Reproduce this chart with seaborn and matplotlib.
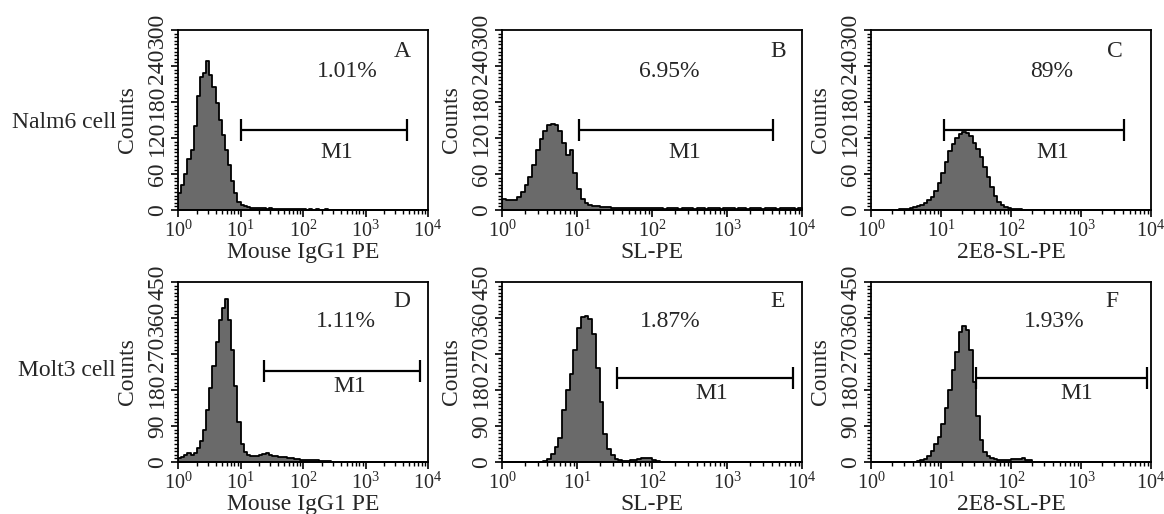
import numpy as np
import pandas as pd
import seaborn as sns
import matplotlib
matplotlib.use("Agg")
import matplotlib.pyplot as plt
from matplotlib.ticker import (LogLocator, LogFormatterMathtext, MultipleLocator,
                               NullFormatter, FixedLocator)

# ---------------------------------------------------------------------------
# Flow-cytometry histograms: counts per fluorescence channel,
# 20 channels per decade over 10^0 .. 10^4 (80 channels per histogram).
# ---------------------------------------------------------------------------
counts_A = [28, 42, 60, 85, 100, 140, 190, 222, 228, 248,
            225, 205, 178, 150, 125, 100, 75, 48, 28, 14,
            8, 6, 5, 4, 4, 3, 3, 3, 2, 3,
            2, 2, 2, 2, 1, 1, 1, 1, 1, 1,
            1, 0, 1, 0, 1, 0, 0, 1, 0, 0,
            0, 0, 0, 0, 0, 0, 0, 0, 0, 0,
            0, 0, 0, 0, 0, 0, 0, 0, 0, 0,
            0, 0, 0, 0, 0, 0, 0, 0, 0, 0]
counts_B = [18, 17, 16, 17, 22, 30, 42, 55, 75, 100,
            118, 132, 142, 143, 142, 132, 112, 92, 100, 62,
            35, 18, 12, 9, 7, 6, 5, 5, 5, 4,
            4, 4, 4, 3, 4, 3, 4, 3, 3, 4,
            3, 3, 3, 2, 3, 3, 3, 2, 3, 3,
            3, 2, 3, 3, 2, 3, 3, 3, 2, 3,
            3, 3, 2, 3, 3, 2, 3, 3, 3, 2,
            3, 3, 3, 2, 3, 3, 3, 3, 2, 3]
counts_C = [0, 0, 0, 0, 0, 0, 0, 0, 1, 1,
            2, 3, 5, 6, 8, 12, 17, 22, 32, 45,
            62, 80, 98, 110, 120, 126, 130, 128, 124, 112,
            102, 88, 72, 55, 38, 24, 14, 8, 5, 3,
            2, 1, 1, 0, 0, 0, 0, 0, 0, 0,
            0, 0, 0, 0, 0, 0, 0, 0, 0, 0,
            0, 0, 0, 0, 0, 0, 0, 0, 0, 0,
            0, 0, 0, 0, 0, 0, 0, 0, 0, 0]
counts_D = [10, 12, 18, 22, 18, 22, 35, 52, 80, 130,
            185, 240, 300, 355, 385, 408, 355, 280, 190, 100,
            45, 25, 18, 16, 15, 16, 18, 20, 22, 18,
            15, 14, 13, 12, 12, 10, 9, 8, 8, 6,
            5, 5, 4, 4, 4, 3, 3, 2, 2, 1,
            0, 0, 0, 0, 0, 0, 0, 0, 0, 0,
            0, 0, 0, 0, 0, 0, 0, 0, 0, 0,
            0, 0, 0, 0, 0, 0, 0, 0, 0, 0]
counts_E = [0, 0, 0, 0, 0, 0, 0, 0, 0, 0,
            0, 2, 8, 20, 38, 60, 130, 180, 220, 280,
            335, 362, 365, 358, 320, 235, 150, 70, 32, 18,
            8, 5, 2, 2, 4, 6, 8, 10, 10, 9,
            6, 2, 0, 0, 0, 0, 0, 0, 0, 0,
            0, 0, 0, 0, 0, 0, 0, 0, 0, 0,
            0, 0, 0, 0, 0, 0, 0, 0, 0, 0,
            0, 0, 0, 0, 0, 0, 0, 0, 0, 0]
counts_F = [0, 0, 0, 0, 0, 0, 0, 0, 0, 0,
            0, 0, 0, 2, 5, 8, 15, 28, 45, 62,
            95, 135, 180, 230, 275, 325, 340, 330, 280, 200,
            115, 55, 25, 15, 10, 7, 6, 6, 5, 6,
            7, 8, 8, 9, 6, 4, 1, 0, 0, 0,
            0, 0, 0, 0, 0, 0, 0, 0, 0, 0,
            0, 0, 0, 0, 0, 0, 0, 0, 0, 0,
            0, 0, 0, 0, 0, 0, 0, 0, 0, 0]

panel_ids = ["A", "B", "C", "D", "E", "F"]
panel_counts = [counts_A, counts_B, counts_C, counts_D, counts_E, counts_F]
x_labels = ["Mouse IgG1 PE", "SL-PE", "2E8-SL-PE",
            "Mouse IgG1 PE", "SL-PE", "2E8-SL-PE"]
percent_labels = ["1.01%", "6.95%", "89%", "1.11%", "1.87%", "1.93%"]
row_labels = ["Nalm6 cell", "Molt3 cell"]

# M1 marker gate: lower / upper fluorescence bound and drawing height (counts)
gate_low = [10, 10.7, 11, 24, 34, 31.6]
gate_high = [4600, 4100, 4100, 7400, 7600, 8700]
gate_level = [133, 133, 133, 227, 210, 210]

# y axis scale per row
row_ymax = [300, 450]
row_ystep = [60, 90]

# ---------------------------------------------------------------------------
# Layout (figure fractions for axes, axes fractions for annotations)
# ---------------------------------------------------------------------------
W, H = 1164, 514
col_px = [(178, 250), (502, 300), (871, 280)]
row_px = [(30, 210), (282, 462)]
pct_pos = [(0.676, 0.767), (0.557, 0.767), (0.646, 0.767),
           (0.672, 0.778), (0.560, 0.778), (0.654, 0.778)]
letter_pos = [(0.896, 0.878), (0.920, 0.878), (0.871, 0.878),
              (0.896, 0.889), (0.920, 0.889), (0.861, 0.889)]
m1_pos = [(0.636, 0.322), (0.610, 0.322), (0.650, 0.322),
          (0.688, 0.417), (0.700, 0.378), (0.736, 0.378)]

sns.set_style("ticks")
plt.rcParams["font.family"] = ["Liberation Serif", "DejaVu Serif"]
plt.rcParams["mathtext.fontset"] = "custom"
plt.rcParams["mathtext.rm"] = "Liberation Serif"
plt.rcParams["mathtext.it"] = "Liberation Serif:italic"
plt.rcParams["axes.linewidth"] = 1.3

FS = 17
XTICK_FS = 14.5
fill_color = "#6a6a6a"

# channel centres (log-spaced, 20 per decade)
channel_log = (np.arange(80) + 0.5) / 20.0
centers = 10 ** channel_log

fig = plt.figure(figsize=(W / 100, H / 100), dpi=100)

for k, pid in enumerate(panel_ids):
    r, c = divmod(k, 3)
    left_px, width_px = col_px[c]
    top_px, bottom_px = row_px[r]
    ax = fig.add_axes([left_px / W, 1 - bottom_px / H,
                       width_px / W, (bottom_px - top_px) / H])

    counts = panel_counts[k]
    assert len(counts) == 80
    df = pd.DataFrame({"fluorescence": centers, "count": counts})
    sns.histplot(data=df, x="fluorescence", weights="count",
                 bins=80, binrange=(0, 4), log_scale=True,
                 element="step", fill=True, color=fill_color, alpha=1,
                 edgecolor="black", linewidth=1.3, ax=ax)

    ax.set_xlim(1, 1e4)
    ymax = row_ymax[r]
    ax.set_ylim(0, ymax)

    # axes frame and ticks
    for sp in ax.spines.values():
        sp.set_visible(True)
        sp.set_color("black")
    ax.xaxis.set_major_locator(LogLocator(base=10, numticks=10))
    ax.xaxis.set_minor_locator(LogLocator(base=10, subs=np.arange(2, 10), numticks=20))
    ax.xaxis.set_major_formatter(LogFormatterMathtext())
    ax.xaxis.set_minor_formatter(NullFormatter())
    ax.yaxis.set_major_locator(FixedLocator(np.arange(0, ymax + 1, row_ystep[r])))
    ax.yaxis.set_minor_locator(MultipleLocator(row_ystep[r] / 10))
    ax.tick_params(axis="both", which="major", direction="out", length=5,
                   width=1.2, color="black", labelsize=FS, pad=1.5)
    ax.tick_params(axis="both", which="minor", direction="out", length=3,
                   width=1.0, color="black")
    ax.tick_params(axis="x", which="major", labelsize=XTICK_FS, pad=2.5)
    ax.tick_params(axis="y", labelrotation=90, pad=2)
    for t in ax.get_yticklabels():
        t.set_verticalalignment("center")

    ax.set_xlabel(x_labels[k], fontsize=FS, labelpad=0)
    ax.set_ylabel("Counts", fontsize=FS)
    ax.yaxis.set_label_coords(-40 / width_px, 0.5)

    # M1 gate marker
    g_lo, g_hi, g_y = gate_low[k], gate_high[k], gate_level[k]
    g_mid = np.sqrt(g_lo * g_hi)
    ax.errorbar([g_mid], [g_y], xerr=[[g_mid - g_lo], [g_hi - g_mid]],
                fmt="none", ecolor="black", elinewidth=1.6, capsize=8,
                capthick=1.6)
    ax.text(*m1_pos[k], "M1", transform=ax.transAxes, fontsize=FS,
            ha="center", va="center")
    ax.text(*pct_pos[k], percent_labels[k], transform=ax.transAxes,
            fontsize=FS, ha="center", va="center")
    ax.text(*letter_pos[k], pid, transform=ax.transAxes, fontsize=FS,
            ha="center", va="center")

fig.text(116 / W, 1 - 123 / H, row_labels[0], fontsize=FS, ha="right", va="center")
fig.text(116 / W, 1 - 370 / H, row_labels[1], fontsize=FS, ha="right", va="center")

fig.savefig("out.png", dpi=100, facecolor="white")
